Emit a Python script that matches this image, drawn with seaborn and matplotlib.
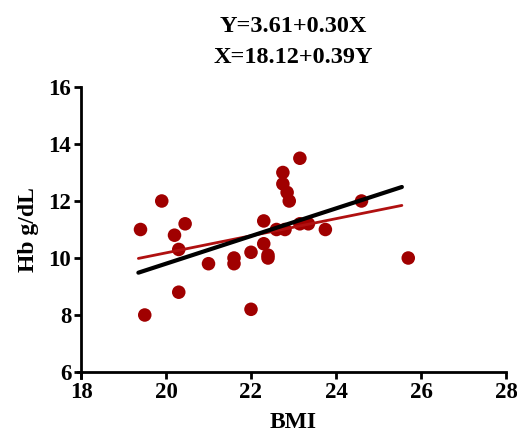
import numpy as np
import pandas as pd
import matplotlib
matplotlib.use("Agg")
import matplotlib.pyplot as plt
import seaborn as sns

bmi = [19.4, 19.5, 19.9, 20.2, 20.3, 20.3, 20.45, 21.0, 21.6, 21.6, 22.0, 22.0,
       22.3, 22.3, 22.4, 22.4, 22.6, 22.75, 22.75, 22.85, 22.9, 22.8, 23.15,
       23.15, 23.35, 23.75, 24.6, 25.7]
hb = [11.0, 8.0, 12.0, 10.8, 10.3, 8.8, 11.2, 9.8, 10.0, 9.8, 10.2, 8.2,
      11.3, 10.5, 10.1, 10.0, 11.0, 13.0, 12.6, 12.3, 12.0, 11.0, 13.5,
      11.2, 11.2, 11.0, 12.0, 10.0]
title_lines = ["Y=3.61+0.30X", "X=18.12+0.39Y"]
x_ticks = [18, 20, 22, 24, 26, 28]
y_ticks = [6, 8, 10, 12, 14, 16]
# fitted lines: (intercept, slope)
red_fit = (4.18, 0.30)
black_fit = (0.10, 0.485)

df = pd.DataFrame({"BMI": bmi, "Hb": hb})

sns.set_theme(style="ticks")
plt.rcParams["font.family"] = ["Liberation Serif", "DejaVu Serif"]
plt.rcParams["font.weight"] = "bold"
plt.rcParams["text.color"] = "black"
plt.rcParams["axes.labelcolor"] = "black"
plt.rcParams["xtick.color"] = "black"
plt.rcParams["ytick.color"] = "black"

fig = plt.figure(figsize=(5.17, 4.37), dpi=100)
ax = fig.add_axes([81 / 517, 1 - 372 / 437, 425 / 517, 285 / 437])

dark_red = "#a00000"
sns.scatterplot(data=df, x="BMI", y="Hb", ax=ax, s=95, color=dark_red,
                edgecolor="none", zorder=3)

xs = np.array([min(bmi) - 0.05, max(bmi) - 0.15])
sns.lineplot(x=xs, y=red_fit[0] + red_fit[1] * xs, ax=ax, color="#b01010",
             linewidth=2, zorder=4)
sns.lineplot(x=xs, y=black_fit[0] + black_fit[1] * xs, ax=ax, color="black",
             linewidth=3, zorder=5)

ax.set_xlim(18, 28)
ax.set_ylim(6, 16)
ax.set_xticks(x_ticks)
ax.set_yticks(y_ticks)
ax.set_xticklabels([str(t) for t in x_ticks], fontsize=16.5, fontweight="bold")
ax.set_yticklabels([str(t) for t in y_ticks], fontsize=16.5, fontweight="bold")
ax.set_xlabel("BMI", fontsize=17, fontweight="bold", labelpad=7)
ax.set_ylabel("Hb g/dL", fontsize=17, fontweight="bold", labelpad=7)

cx = (81 + 506) / 2 / 517
fig.text(cx, 1 - 32 / 437, title_lines[0], ha="center", va="baseline",
         fontsize=17.5, fontweight="bold")
fig.text(cx, 1 - 63 / 437, title_lines[1], ha="center", va="baseline",
         fontsize=17.5, fontweight="bold")

sns.despine(ax=ax)
for side in ["left", "bottom"]:
    ax.spines[side].set_linewidth(2)
    ax.spines[side].set_color("black")
ax.tick_params(axis="both", width=2, length=5, color="black", pad=2)
ax.spines["left"].set_bounds(5.8, 16)
ax.spines["bottom"].set_bounds(17.93, 28)

fig.savefig("out.png", dpi=100, facecolor="white")
